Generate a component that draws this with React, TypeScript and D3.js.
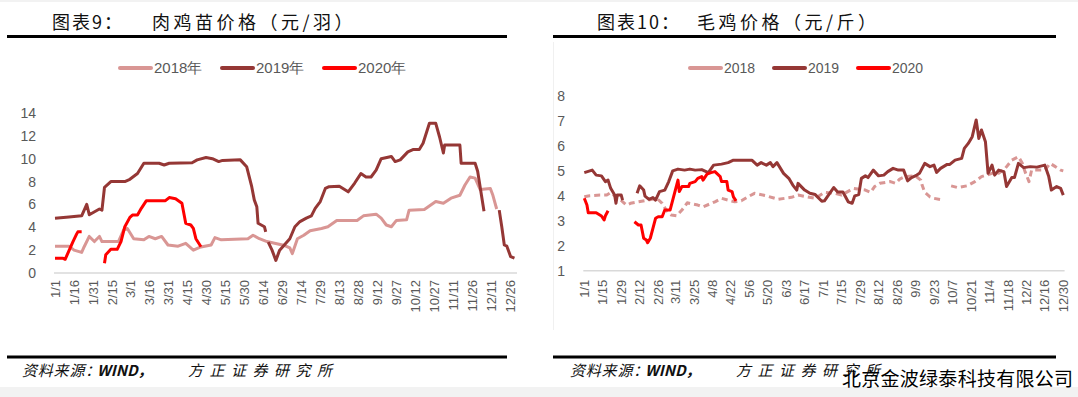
import * as d3 from 'd3';
import { useEffect, useRef } from 'react';

type Point = [string, number | null];

const WIDTH = 1078;
const HEIGHT = 397;

const YEARS = ['2018', '2019', '2020'];
const SEEDLING_LEGEND = ['2018年', '2019年', '2020年'];
const SERIES_COLORS = ['#d99694', '#953735', '#ff0000'];

const SEEDLING_TICKS = [
  '1/1', '1/16', '1/31', '2/15', '3/1', '3/16', '3/31', '4/15', '4/30', '5/15', '5/30', '6/14', '6/29',
  '7/14', '7/29', '8/13', '8/28', '9/12', '9/27', '10/12', '10/27', '11/11', '11/26', '12/11', '12/26',
];
const BROILER_TICKS = [
  '1/1', '1/15', '1/29', '2/12', '2/26', '3/11', '3/25', '4/8', '4/22', '5/6', '5/20', '6/3', '6/17', '7/1',
  '7/15', '7/29', '8/12', '8/26', '9/9', '9/23', '10/7', '10/21', '11/4', '11/18', '12/2', '12/16', '12/30',
];
const SEEDLING_Y = [0, 2, 4, 6, 8, 10, 12, 14];
const BROILER_Y = [1, 2, 3, 4, 5, 6, 7, 8];

// 肉鸡苗价格（元/羽）
const seedling2018: Point[] = [
  ['1/1', 2.35], ['1/12', 2.35], ['1/16', 2.0], ['1/22', 1.8], ['1/24', 2.3], ['1/28', 3.2], ['2/1', 2.75],
  ['2/5', 3.2], ['2/7', 2.75], ['2/20', 2.75], ['2/24', 3.75], ['2/27', 3.9], ['3/4', 3.0], ['3/12', 2.9],
  ['3/16', 3.2], ['3/21', 3.0], ['3/26', 3.2], ['3/31', 2.45], ['4/8', 2.35], ['4/14', 2.6], ['4/20', 2.0],
  ['4/25', 2.25], ['5/4', 2.45], ['5/7', 3.1], ['5/12', 2.9], ['6/2', 3.0], ['6/6', 3.3], ['6/11', 3.0],
  ['6/17', 2.75], ['6/23', 2.6], ['7/1', 2.4], ['7/5', 2.2], ['7/7', 1.7], ['7/11', 3.0], ['7/16', 3.3],
  ['7/21', 3.7], ['7/30', 3.9], ['8/4', 4.05], ['8/11', 4.6], ['8/27', 4.6], ['9/1', 5.0], ['9/11', 5.15],
  ['9/15', 4.8], ['9/19', 4.2], ['9/23', 4.05], ['9/27', 4.6], ['10/5', 4.65], ['10/7', 5.5], ['10/19', 5.55],
  ['10/28', 6.25], ['11/3', 6.1], ['11/9', 6.55], ['11/16', 6.8], ['11/20', 7.7], ['11/24', 8.4], ['11/28', 8.3],
  ['12/2', 7.3], ['12/10', 7.4], ['12/12', 6.8], ['12/15', 5.6],
];
const seedling2019: Point[] = [
  ['1/1', 4.8], ['1/12', 4.9], ['1/22', 5.0], ['1/26', 6.0], ['1/28', 5.1], ['2/5', 5.6], ['2/7', 5.5],
  ['2/9', 7.5], ['2/14', 8.0], ['2/25', 8.0], ['3/1', 8.2], ['3/7', 8.7], ['3/12', 9.6], ['3/24', 9.6],
  ['3/28', 9.45], ['4/1', 9.6], ['4/19', 9.65], ['4/23', 9.9], ['4/30', 10.1], ['5/5', 10.0], ['5/10', 9.75],
  ['5/13', 9.85], ['5/27', 9.9], ['6/1', 9.3], ['6/5', 7.55], ['6/7', 6.4], ['6/9', 5.8], ['6/10', 4.35],
  ['6/15', 4.05], ['6/16', 3.6], ['6/17', null], ['6/18', 2.7], ['6/21', 2.0], ['6/24', 1.1], ['6/27', 2.0],
  ['7/1', 2.5], ['7/5', 3.0], ['7/9', 4.05], ['7/13', 4.5], ['7/18', 4.8], ['7/22', 5.0], ['7/25', 5.65],
  ['7/29', 6.25], ['8/2', 7.4], ['8/5', 7.55], ['8/13', 7.6], ['8/20', 7.1], ['8/25', 7.85], ['8/30', 8.7],
  ['9/3', 8.4], ['9/7', 8.4], ['9/11', 9.0], ['9/15', 10.0], ['9/23', 10.2], ['9/26', 9.75], ['9/30', 9.9],
  ['10/6', 10.6], ['10/10', 10.8], ['10/15', 10.8], ['10/18', 11.35], ['10/23', 13.1], ['10/28', 13.1],
  ['10/31', 11.9], ['11/3', 10.5], ['11/4', 11.2], ['11/16', 11.2], ['11/17', 9.6], ['11/28', 9.6],
  ['11/30', 8.9], ['12/5', 5.4], ['12/10', null], ['12/17', 5.5], ['12/19', 4.05], ['12/21', 2.45],
  ['12/23', 2.35], ['12/26', 1.43], ['12/29', 1.3],
];
const seedling2020: Point[] = [
  ['1/1', 1.3], ['1/7', 1.3], ['1/9', 1.2], ['1/11', 1.7], ['1/15', 2.7], ['1/18', 3.4], ['1/19', 3.6],
  ['1/22', 3.6], ['1/30', null], ['2/9', 0.85], ['2/10', 1.6], ['2/14', 2.07], ['2/19', 2.07], ['2/22', 2.75],
  ['2/25', 4.05], ['3/1', 4.87], ['3/3', 5.07], ['3/7', 5.07], ['3/10', 5.66], ['3/14', 6.33], ['3/29', 6.33],
  ['4/1', 6.6], ['4/6', 6.5], ['4/11', 6.1], ['4/14', 4.35], ['4/18', 4.2], ['4/20', 3.9], ['4/22', 3.0],
  ['4/26', 2.3],
];

// 毛鸡价格（元/斤）
const broiler2018: Point[] = [
  ['1/1', 3.96], ['1/5', 4.0], ['1/13', 4.03], ['1/18', 4.03], ['1/21', 4.13], ['1/24', 4.0], ['1/28', 3.86],
  ['1/31', 3.72], ['2/2', 3.63], ['2/5', 3.7], ['2/25', 3.9], ['3/1', 3.7], ['3/4', 3.43], ['3/8', 3.23],
  ['3/12', 3.2], ['3/16', 3.43], ['3/20', 3.72], ['3/28', 3.63], ['4/1', 3.56], ['4/10', 3.76], ['4/15', 3.9],
  ['4/25', 3.76], ['4/30', 3.8], ['5/5', 3.96], ['5/10', 4.1], ['5/19', 4.0], ['5/28', 3.86], ['6/7', 3.94],
  ['6/12', 4.03], ['6/25', 3.9], ['7/2', 4.14], ['7/10', 4.1], ['7/15', 4.03], ['7/24', 4.3], ['8/2', 4.23],
  ['8/6', 4.14], ['8/9', 4.37], ['8/13', 4.5], ['8/21', 4.57], ['8/25', 4.5], ['8/28', 4.67], ['9/1', 4.77],
  ['9/9', 4.8], ['9/13', 4.63], ['9/14', 4.43], ['9/16', 4.14], ['9/20', 3.96], ['9/23', 3.9], ['9/30', 3.83],
  ['10/3', null], ['10/6', 4.4], ['10/11', 4.33], ['10/18', 4.4], ['10/24', 4.57], ['10/29', 4.77],
  ['11/6', 4.9], ['11/11', 4.9], ['11/16', 5.1], ['11/21', 5.43], ['11/26', 5.57], ['11/29', 5.3],
  ['12/1', 4.97], ['12/4', 4.57], ['12/6', 5.03], ['12/16', 5.03], ['12/20', 5.3], ['12/24', 5.17],
  ['12/28', 5.03], ['12/30', 5.0],
];
const broiler2019: Point[] = [
  ['1/1', 4.93], ['1/7', 5.03], ['1/10', 4.83], ['1/14', 4.8], ['1/17', 4.57], ['1/19', 4.63], ['1/21', 4.3],
  ['1/24', 4.03], ['1/25', 3.7], ['1/26', 4.03], ['1/29', 4.03], ['1/30', 3.83], ['2/5', null], ['2/10', 4.1],
  ['2/12', 4.4], ['2/15', 4.23], ['2/16', 3.99], ['2/19', 3.86], ['2/22', 3.93], ['2/24', 3.83], ['2/27', 4.17],
  ['3/3', 4.23], ['3/6', 4.57], ['3/9', 5.0], ['3/13', 5.07], ['3/18', 5.03], ['3/22', 5.07], ['3/26', 5.03],
  ['3/31', 5.05], ['4/5', 4.93], ['4/9', 5.23], ['4/15', 5.27], ['4/20', 5.33], ['4/24', 5.43], ['5/8', 5.43],
  ['5/12', 5.23], ['5/15', 5.33], ['5/19', 5.23], ['5/22', 5.33], ['5/24', 5.17], ['5/27', 5.33], ['6/1', 4.9],
  ['6/5', 4.7], ['6/8', 4.43], ['6/11', 4.23], ['6/12', 4.5], ['6/17', 4.23], ['6/21', 4.1], ['6/25', 4.05],
  ['6/30', 3.78], ['7/2', 3.8], ['7/9', 4.33], ['7/12', 4.15], ['7/16', 4.15], ['7/20', 3.76], ['7/23', 3.7],
  ['7/25', 4.0], ['7/28', 4.05], ['7/30', 4.7], ['8/2', 4.8], ['8/4', 4.73], ['8/8', 5.03], ['8/12', 4.8],
  ['8/16', 4.83], ['8/19', 4.97], ['8/23', 5.1], ['8/27', 5.03], ['8/31', 5.03], ['9/3', 4.6], ['9/6', 4.73],
  ['9/10', 4.83], ['9/12', 4.9], ['9/16', 5.3], ['9/20', 5.17], ['9/23', 5.23], ['9/25', 4.94], ['9/28', 5.1],
  ['10/3', 5.26], ['10/5', 5.26], ['10/9', 5.43], ['10/14', 5.5], ['10/16', 5.9], ['10/19', 6.1],
  ['10/22', 6.37], ['10/25', 7.04], ['10/27', 6.3], ['10/29', 6.64], ['11/1', 6.17], ['11/3', 4.9],
  ['11/6', 5.23], ['11/8', 4.83], ['11/11', 5.03], ['11/15', 4.97], ['11/17', 4.37], ['11/21', 4.73],
  ['11/23', 4.73], ['11/26', 5.3], ['11/30', 5.13], ['12/5', 5.17], ['12/10', 5.15], ['12/16', 5.23],
  ['12/19', 4.77], ['12/21', 4.23], ['12/25', 4.37], ['12/28', 4.3], ['12/30', 4.03],
];
const broiler2020: Point[] = [
  ['1/1', 3.9], ['1/3', 3.63], ['1/4', 3.32], ['1/10', 3.32], ['1/14', 3.19], ['1/16', 3.03], ['1/17', 3.2],
  ['1/19', 3.4], ['1/28', null], ['2/8', 2.96], ['2/11', 2.83], ['2/13', 2.83], ['2/15', 2.3], ['2/17', 2.23],
  ['2/18', 2.12], ['2/20', 2.3], ['2/22', 2.7], ['2/24', 3.1], ['2/26', 3.16], ['3/1', 3.16], ['3/3', 3.43],
  ['3/7', 3.43], ['3/9', 3.83], ['3/11', 4.23], ['3/13', 4.63], ['3/14', 4.17], ['3/16', 4.37], ['3/21', 4.37],
  ['3/22', 4.5], ['3/26', 4.57], ['3/28', 4.7], ['3/31', 4.77], ['4/1', 4.63], ['4/4', 4.87], ['4/7', 4.93],
  ['4/10', 4.97], ['4/12', 4.87], ['4/14', 4.77], ['4/15', 4.57], ['4/19', 4.57], ['4/20', 4.23],
  ['4/23', 4.17], ['4/24', 3.96], ['4/26', 3.8],
];

const toDate = (label: string) => {
  const [m, d] = label.split('/').map(Number);
  return new Date(2019, m - 1, d);
};

type Panel = {
  left: number;
  right: number;
  top: number;
  bottom: number;
  yDomain: [number, number];
  yTicks: number[];
  yLabelX: number;
  xTicks: string[];
  xLabelGap: number;
  series: { data: Point[]; color: string; dash?: string }[];
  legendLabels: string[];
  legendStarts: number[];
  legendFont: number;
};

export default function App() {
  const svgRef = useRef<SVGSVGElement | null>(null);

  useEffect(() => {
    if (!svgRef.current) return;
    const svg = d3.select(svgRef.current);
    svg.selectAll('*').remove();

    const axisFont = '"Liberation Sans", Arial, sans-serif';
    const cjkFont = '"Noto Sans CJK SC", sans-serif';
    const labelColor = '#595959';

    svg.append('rect').attr('width', WIDTH).attr('height', HEIGHT).attr('fill', '#ffffff');
    svg.append('rect').attr('y', 387).attr('width', WIDTH).attr('height', 10).attr('fill', '#f2f2f2');
    svg.append('rect').attr('width', WIDTH).attr('height', 2).attr('fill', '#f2f2f2');
    svg.append('line')
      .attr('x1', 553.5).attr('x2', 553.5).attr('y1', 42).attr('y2', 330)
      .attr('stroke', '#f0f0f0').attr('stroke-width', 1);

    // headers and footers
    const frames = [
      { x0: 7, x1: 507, label: '图表9：', labelX: 52, title: '肉鸡苗价格（元/羽）', titleX: 152, source: 22 },
      { x0: 553, x1: 1056, label: '图表10：', labelX: 597, title: '毛鸡价格（元/斤）', titleX: 697, source: 570 },
    ];
    frames.forEach((f) => {
      [36.5, 357].forEach((yy) => {
        svg.append('line')
          .attr('x1', f.x0).attr('x2', f.x1).attr('y1', yy).attr('y2', yy)
          .attr('stroke', '#000').attr('stroke-width', 3);
      });
      svg.append('text').attr('x', f.labelX).attr('y', 29)
        .attr('font-family', cjkFont).attr('font-size', 18).attr('letter-spacing', 2)
        .attr('fill', '#111').text(f.label);
      svg.append('text').attr('x', f.titleX).attr('y', 29)
        .attr('font-family', cjkFont).attr('font-size', 18).attr('letter-spacing', 3.5)
        .attr('fill', '#111').text(f.title);

      const source = svg.append('g')
        .attr('font-family', cjkFont).attr('font-style', 'italic').attr('fill', '#111');
      source.append('text').attr('x', f.source).attr('y', 376)
        .attr('font-size', 15).attr('letter-spacing', 0.8).text('资料来源：');
      source.append('text').attr('x', f.source + 75).attr('y', 376)
        .attr('font-size', 15).attr('font-weight', 700).text('WIND，');
      source.append('text').attr('x', f.source + 166).attr('y', 376)
        .attr('font-size', 15).attr('letter-spacing', 6.5).text('方正证券研究所');
    });

    const drawPanel = (p: Panel) => {
      const x = d3.scaleTime().domain([toDate('1/1'), toDate('12/31')]).range([p.left, p.right]);
      const y = d3.scaleLinear().domain(p.yDomain).range([p.bottom, p.top]);
      const g = svg.append('g');

      g.append('line')
        .attr('x1', p.left - 1).attr('x2', p.right).attr('y1', p.bottom).attr('y2', p.bottom)
        .attr('stroke', '#d9d9d9').attr('stroke-width', 1.5);

      g.selectAll('text.ytick').data(p.yTicks).join('text')
        .attr('class', 'ytick')
        .attr('x', p.yLabelX).attr('y', (d) => y(d)).attr('dy', '0.36em')
        .attr('text-anchor', 'end').attr('font-family', axisFont).attr('font-size', 14)
        .attr('fill', labelColor).text((d) => d);

      g.selectAll('text.xtick').data(p.xTicks).join('text')
        .attr('class', 'xtick')
        .attr('transform', (d) => `translate(${x(toDate(d))},${p.bottom + p.xLabelGap}) rotate(-90)`)
        .attr('dy', '0.36em').attr('text-anchor', 'end')
        .attr('font-family', axisFont).attr('font-size', 13)
        .attr('fill', labelColor).text((d) => d);

      const line = d3.line<Point>()
        .defined((d) => d[1] !== null)
        .x((d) => x(toDate(d[0])))
        .y((d) => y(d[1] as number));

      p.series.forEach((s) => {
        g.append('path')
          .attr('d', line(s.data))
          .attr('fill', 'none')
          .attr('stroke', s.color)
          .attr('stroke-width', 3)
          .attr('stroke-linejoin', 'round')
          .attr('stroke-dasharray', s.dash ?? null);
      });

      const legend = g.append('g');
      p.legendLabels.forEach((label, i) => {
        const lx = p.legendStarts[i];
        legend.append('line')
          .attr('x1', lx + 2).attr('x2', lx + 33).attr('y1', 68).attr('y2', 68)
          .attr('stroke', SERIES_COLORS[i]).attr('stroke-width', 4).attr('stroke-linecap', 'round');
        legend.append('text')
          .attr('x', lx + 36).attr('y', 68).attr('dy', '0.36em')
          .attr('font-family', axisFont).attr('font-size', p.legendFont)
          .attr('fill', labelColor).text(label);
      });
    };

    drawPanel({
      left: 55,
      right: 517,
      top: 113,
      bottom: 273,
      yDomain: [0, 14],
      yTicks: SEEDLING_Y,
      yLabelX: 36,
      xTicks: SEEDLING_TICKS,
      xLabelGap: 7,
      series: [
        { data: seedling2018, color: SERIES_COLORS[0] },
        { data: seedling2019, color: SERIES_COLORS[1] },
        { data: seedling2020, color: SERIES_COLORS[2] },
      ],
      legendLabels: SEEDLING_LEGEND,
      legendStarts: [118, 220, 322],
      legendFont: 15,
    });

    drawPanel({
      left: 584.3,
      right: 1064.6,
      top: 96,
      bottom: 270.7,
      yDomain: [1, 8],
      yTicks: BROILER_Y,
      yLabelX: 565,
      xTicks: BROILER_TICKS,
      xLabelGap: 9,
      series: [
        { data: broiler2018, color: SERIES_COLORS[0], dash: '6 4' },
        { data: broiler2019, color: SERIES_COLORS[1] },
        { data: broiler2020, color: SERIES_COLORS[2] },
      ],
      legendLabels: YEARS,
      legendStarts: [688, 772, 856],
      legendFont: 14,
    });

    svg.append('text')
      .attr('x', 842).attr('y', 386)
      .attr('font-family', cjkFont).attr('font-size', 19)
      .attr('textLength', 231).attr('lengthAdjust', 'spacing')
      .attr('fill', '#000').text('北京金波绿泰科技有限公司');
  }, []);

  return (
    <svg
      ref={svgRef}
      width={WIDTH}
      height={HEIGHT}
      style={{ position: 'absolute', left: 0, top: 0, display: 'block' }}
    />
  );
}
